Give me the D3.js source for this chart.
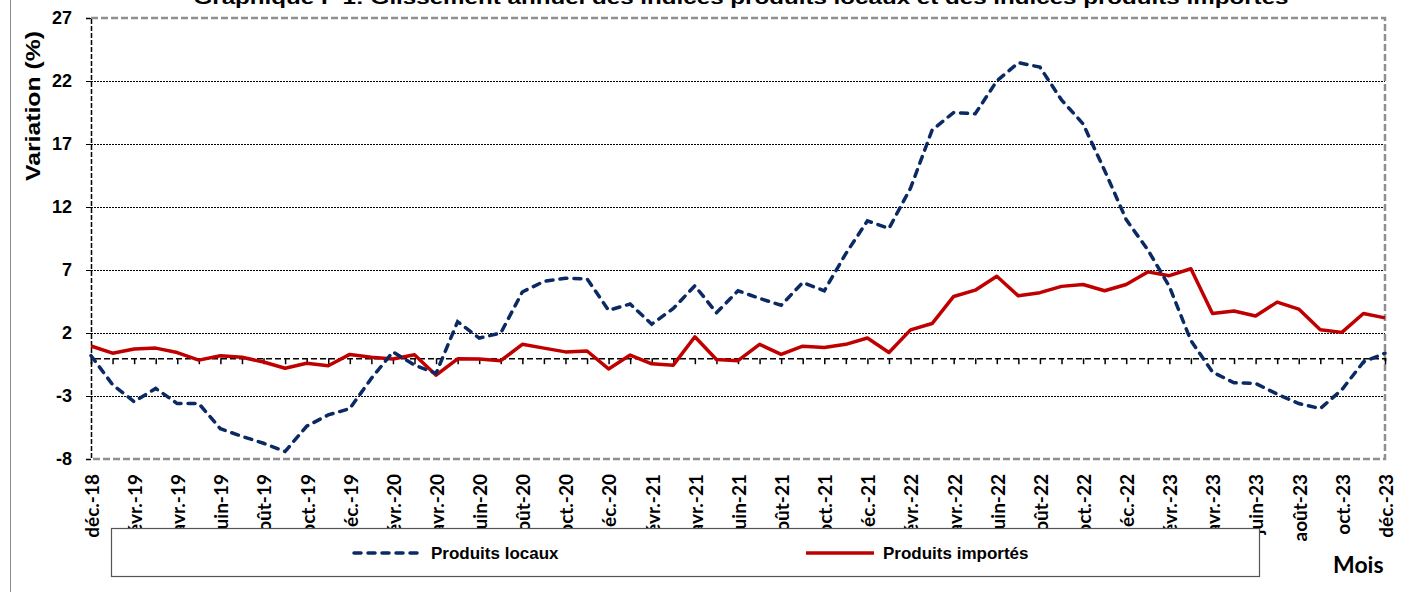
<!DOCTYPE html>
<html>
<head>
<meta charset="utf-8">
<script src="https://cdn.jsdelivr.net/npm/d3@7"></script>
<style>
  body { margin: 0; background: #fff; }
  svg { display: block; }
  .ylab { font-family: "Liberation Sans", Arial, sans-serif; font-weight: bold; font-size: 18px; }
  .xlab { font-family: Lato, "Open Sans", sans-serif; font-weight: bold; font-size: 19px; }
</style>
</head>
<body>
<svg id="chart" width="1426" height="592"></svg>
<script>
// month labels, déc.-18 .. déc.-23
var months = [
  "déc.-18",
  "janv.-19","févr.-19","mars-19","avr.-19","mai-19","juin-19","juil.-19","août-19","sept.-19","oct.-19","nov.-19","déc.-19",
  "janv.-20","févr.-20","mars-20","avr.-20","mai-20","juin-20","juil.-20","août-20","sept.-20","oct.-20","nov.-20","déc.-20",
  "janv.-21","févr.-21","mars-21","avr.-21","mai-21","juin-21","juil.-21","août-21","sept.-21","oct.-21","nov.-21","déc.-21",
  "janv.-22","févr.-22","mars-22","avr.-22","mai-22","juin-22","juil.-22","août-22","sept.-22","oct.-22","nov.-22","déc.-22",
  "janv.-23","févr.-23","mars-23","avr.-23","mai-23","juin-23","juil.-23","août-23","sept.-23","oct.-23","nov.-23","déc.-23"
];

// Produits locaux (%)
var locaux = [
  0.2,
  -2.1, -3.45, -2.4, -3.6, -3.6, -5.6, -6.2, -6.75, -7.4, -5.4, -4.5, -4.0,
  -1.6, 0.5, -0.55, -1.2, 2.9, 1.6, 2.0, 5.25, 6.1, 6.35, 6.3, 3.8,
  4.3, 2.7, 3.95, 5.75, 3.6, 5.35, 4.75, 4.2, 6.0, 5.35, 8.3, 10.9,
  10.3, 13.5, 18.1, 19.5, 19.4, 22.0, 23.45, 23.1, 20.5, 18.6, 14.9, 11.0,
  8.6, 5.7, 1.4, -1.1, -1.95, -2.0, -2.85, -3.6, -4.0, -2.5, -0.3, 0.4
];

// Produits importés (%)
var importes = [
  0.97,
  0.4, 0.73, 0.8, 0.45, -0.15, 0.2, 0.07, -0.3, -0.8, -0.4, -0.6, 0.3,
  0.07, -0.07, 0.28, -1.35, -0.05, -0.07, -0.2, 1.1, 0.8, 0.5, 0.57, -0.85,
  0.25, -0.45, -0.55, 1.7, -0.1, -0.2, 1.1, 0.3, 0.95, 0.85, 1.1, 1.6,
  0.45, 2.25, 2.75, 4.9, 5.4, 6.5, 4.95, 5.2, 5.7, 5.85, 5.35, 5.85,
  6.85, 6.55, 7.1, 3.55, 3.75, 3.35, 4.45, 3.9, 2.25, 2.05, 3.55, 3.2
];

var yTicks = [-8, -3, 2, 7, 12, 17, 22, 27];

var title = "Graphique I- 1: Glissement annuel des indices produits locaux et des indices produits importés";

var svg = d3.select("#chart"),
    plotLeft = 91, plotRight = 1385, plotTop = 18, plotBottom = 459;

var x = d3.scalePoint()
    .domain(d3.range(months.length))
    .range([plotLeft, plotRight]);

var y = d3.scaleLinear()
    .domain([-8, 27])
    .range([plotBottom, plotTop]);

// outer chart border (left side visible)
svg.append("line")
    .attr("x1", 10.5).attr("x2", 10.5)
    .attr("y1", 0).attr("y2", 592)
    .attr("stroke", "#8c8c8c").attr("stroke-width", 1);

// title, cut at top like the original
svg.append("text")
    .attr("x", 741).attr("y", 4)
    .attr("text-anchor", "middle")
    .attr("textLength", 1095)
    .attr("lengthAdjust", "spacingAndGlyphs")
    .style("font-family", "Liberation Sans, Arial, sans-serif")
    .style("font-weight", "bold")
    .style("font-size", "19px")
    .text(title);

// gridlines
svg.append("g")
  .selectAll("line")
    .data(yTicks.filter(function(d) { return d > -8 && d < 27; }))
  .enter().append("line")
    .attr("x1", plotLeft).attr("x2", plotRight)
    .attr("y1", function(d) { return Math.round(y(d)) + 0.5; })
    .attr("y2", function(d) { return Math.round(y(d)) + 0.5; })
    .attr("stroke", "#000")
    .attr("stroke-width", 1)
    .attr("stroke-dasharray", "2,1");

// plot border (gray dashed) top / right / bottom
svg.append("path")
    .attr("d", "M" + plotLeft + "," + plotTop + "H" + plotRight + "V" + plotBottom + "H" + plotLeft)
    .attr("fill", "none")
    .attr("stroke", "#8f8f8f")
    .attr("stroke-width", 2.5)
    .attr("stroke-dasharray", "7,3");

// y axis
var yAxis = svg.append("g")
    .attr("transform", "translate(" + plotLeft + ",0)")
    .call(d3.axisLeft(y).tickValues(yTicks).tickSize(5).tickPadding(14)
          .tickFormat(function(d) { return String(d); }));
yAxis.select(".domain")
    .attr("stroke", "#000")
    .attr("stroke-width", 1.5)
    .attr("stroke-dasharray", "5,2");
yAxis.selectAll(".tick line").attr("stroke", "#000");
yAxis.selectAll(".tick text")
    .attr("class", "ylab")
    .attr("fill", "#000");

// category axis on the zero line
var xAxis = svg.append("g")
    .attr("transform", "translate(0," + y(0) + ")")
    .call(d3.axisBottom(x).tickSize(6).tickFormat(""));
xAxis.select(".domain")
    .attr("stroke", "#000")
    .attr("stroke-width", 1.5)
    .attr("stroke-dasharray", "6,3");
xAxis.selectAll(".tick line").attr("stroke", "#000").attr("stroke-width", 1.5);

// x labels every two months, at the bottom
svg.append("g")
  .selectAll("text")
    .data(months.map(function(m, i) { return {m: m, i: i}; })
                .filter(function(d) { return d.i % 2 === 0; }))
  .enter().append("text")
    .attr("class", "xlab")
    .attr("transform", function(d) { return "translate(" + (x(d.i) + 1) + ",474) rotate(-90)"; })
    .attr("text-anchor", "end")
    .attr("dy", "0.36em")
    .text(function(d) { return d.m; });

// series
var line = d3.line()
    .x(function(d, i) { return x(i); })
    .y(function(d) { return y(d); });

svg.append("path")
    .datum(importes)
    .attr("d", line)
    .attr("fill", "none")
    .attr("stroke", "#c00000")
    .attr("stroke-width", 3.5)
    .attr("stroke-linejoin", "round");

svg.append("path")
    .datum(locaux)
    .attr("d", line)
    .attr("fill", "none")
    .attr("stroke", "#0b2a63")
    .attr("stroke-width", 3.5)
    .attr("stroke-linecap", "round")
    .attr("stroke-dasharray", "7,7");

// axis titles
svg.append("text")
    .attr("transform", "translate(40,106) rotate(-90)")
    .attr("text-anchor", "middle")
    .attr("textLength", 150)
    .attr("lengthAdjust", "spacingAndGlyphs")
    .style("font-family", "Liberation Sans, Arial, sans-serif")
    .style("font-weight", "bold")
    .style("font-size", "20px")
    .text("Variation (%)");

svg.append("text")
    .attr("x", 1333).attr("y", 573)
    .style("font-family", "Lato, 'Open Sans', sans-serif")
    .style("font-weight", "bold")
    .style("font-size", "23px")
    .text("Mois");

// legend
var legend = svg.append("g");
legend.append("rect")
    .attr("x", 111.5).attr("y", 528.5)
    .attr("width", 1148).attr("height", 48)
    .attr("fill", "#fff")
    .attr("stroke", "#555")
    .attr("stroke-width", 1.2);

var legendItems = [
  {name: "Produits locaux", color: "#0b2a63", dash: "7,7", x: 352},
  {name: "Produits importés", color: "#c00000", dash: null, x: 804}
];

legendItems.forEach(function(d) {
  legend.append("line")
      .attr("x1", d.x + 2).attr("x2", d.x + 70)
      .attr("y1", 553).attr("y2", 553)
      .attr("stroke", d.color)
      .attr("stroke-width", 3.5)
      .attr("stroke-linecap", d.dash ? "round" : "butt")
      .attr("stroke-dasharray", d.dash);
  legend.append("text")
      .attr("x", d.x + 79).attr("y", 559)
      .style("font-family", "Liberation Sans, Arial, sans-serif")
      .style("font-weight", "bold")
      .style("font-size", "17px")
      .text(d.name);
});
</script>
</body>
</html>
